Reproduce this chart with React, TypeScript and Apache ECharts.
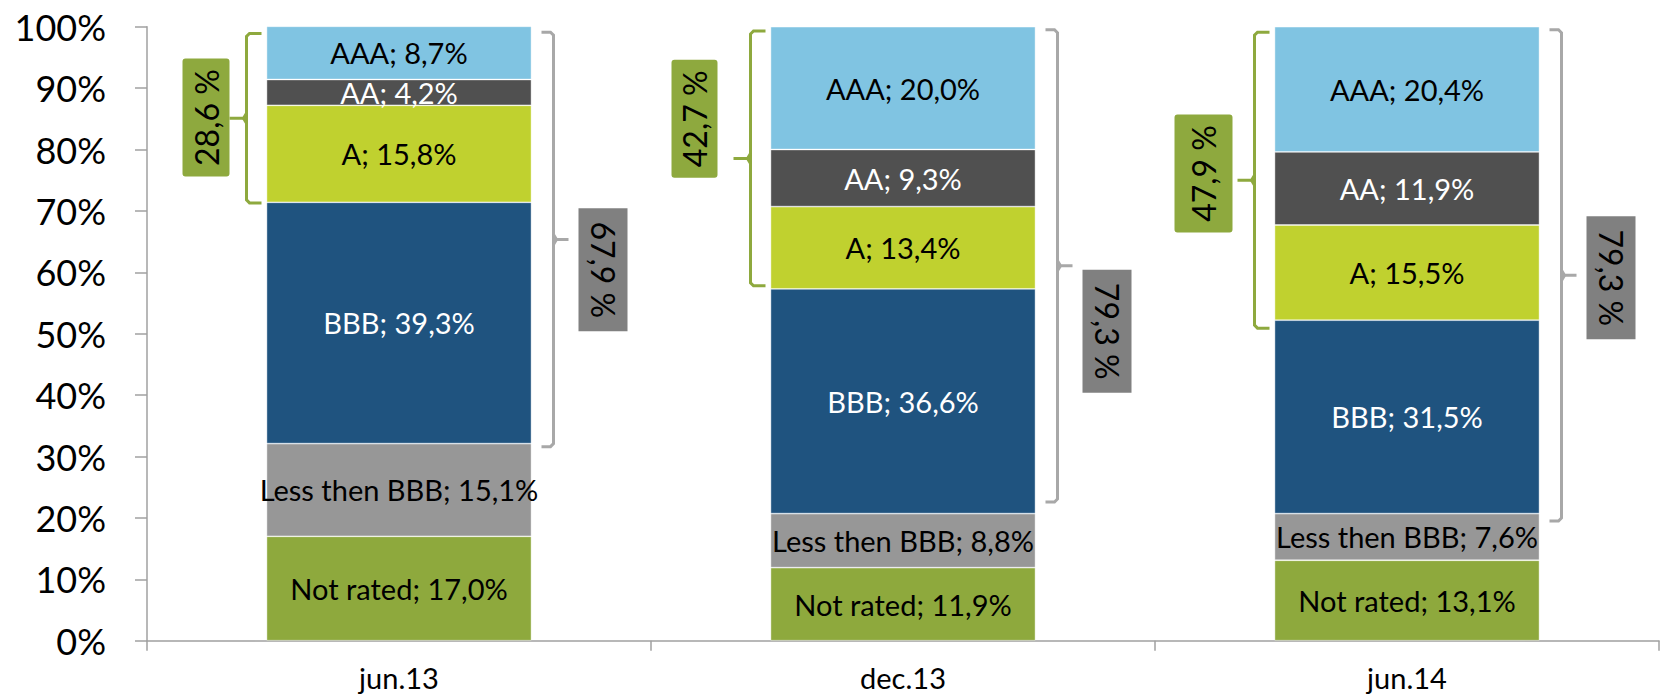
import React, { useEffect, useRef } from "react";
import * as echarts from "echarts";

// ---- data ----
const categories = ["jun.13", "dec.13", "jun.14"];
const notRated = [17.0, 11.9, 13.1];
const lessThenBBB = [15.1, 8.8, 7.6];
const bbb = [39.3, 36.6, 31.5];
const singleA = [15.8, 13.4, 15.5];
const doubleA = [4.2, 9.3, 11.9];
const tripleA = [8.7, 20.0, 20.4];

// bracket annotations: A..AAA (green) and BBB..AAA (grey)
const greenTotals = ["28,6 %", "42,7 %", "47,9 %"];
const greyTotals = ["67,9 %", "79,3 %", "79,3 %"];
const greenLow = [71.3, 57.8, 50.9];
const greenHigh = [98.9, 99.3, 99.1];
const greenBoxCenter = [85.2, 85.0, 76.1];
const greyLow = [31.6, 22.6, 19.5];
const greyHigh = [99.1, 99.5, 99.5];
const greyBoxCenter = [60.4, 50.4, 59.1];

// layout (pixels) for the annotation boxes
const greenBoxGap = [17, 33, 22];
const greenBoxWidth = [47, 46, 58];
const BOX_H = 118;
const GREY_BOX_W = 49;

const FONT = "Lato, 'Open Sans', sans-serif";
const BAR_W = 265;

const fmt = (v: number) => v.toFixed(1).replace(".", ",") + "%";

export default function App() {
  const ref = useRef<HTMLDivElement>(null);

  useEffect(() => {
    if (!ref.current) return;
    const chart = echarts.init(ref.current, undefined, { renderer: "svg" });

    const mkBar = (name: string, data: number[], color: string, textColor: string) => ({
      name,
      type: "bar",
      stack: "total",
      barWidth: BAR_W,
      data,
      itemStyle: { color, borderColor: "rgba(255,255,255,0.5)", borderWidth: 0.8 },
      label: {
        show: true,
        position: "inside",
        color: textColor,
        fontFamily: FONT,
        fontSize: 29,
        formatter: (p: any) => `${name}; ${fmt(p.value)}`,
      },
      emphasis: { disabled: true },
    });

    const greenData = categories.map((_, i) => [i, greenLow[i], greenHigh[i], greenBoxCenter[i]]);
    const greyData = categories.map((_, i) => [i, greyLow[i], greyHigh[i], greyBoxCenter[i]]);

    const GREEN = "#8EA93E";
    const GREY_LINE = "#A8A8A8";
    const GREY_BOX = "#808080";

    const option: any = {
      animation: false,
      backgroundColor: "#ffffff",
      grid: { left: 147, right: 2, top: 26.7, bottom: 56.3, containLabel: false },
      xAxis: {
        type: "category",
        data: categories,
        axisLine: { lineStyle: { color: "#A0A0A0", width: 1.5 } },
        axisTick: { show: true, length: 10, lineStyle: { color: "#A0A0A0", width: 1.5 } },
        axisLabel: { color: "#000", fontFamily: FONT, fontSize: 29, margin: 22 },
      },
      yAxis: {
        type: "value",
        min: 0,
        max: 100,
        interval: 10,
        axisLine: { show: true, lineStyle: { color: "#A0A0A0", width: 1.5 } },
        axisTick: { show: true, length: 12, lineStyle: { color: "#A0A0A0", width: 1.5 } },
        splitLine: { show: false },
        axisLabel: {
          color: "#000",
          fontFamily: FONT,
          fontSize: 36,
          margin: 41,
          formatter: (v: number) => `${v}%`,
        },
      },
      series: [
        mkBar("Not rated", notRated, "#8EA93D", "#000"),
        mkBar("Less then BBB", lessThenBBB, "#979797", "#000"),
        mkBar("BBB", bbb, "#1F537F", "#fff"),
        mkBar("A", singleA, "#C0D12F", "#000"),
        mkBar("AA", doubleA, "#505050", "#fff"),
        mkBar("AAA", tripleA, "#80C4E2", "#000"),
        {
          type: "custom",
          name: "greenBracket",
          silent: true,
          data: greenData,
          encode: { x: 0, y: 1 },
          renderItem: (params: any, api: any) => {
            const i = params.dataIndex;
            const [cx, yTop] = api.coord([api.value(0), api.value(2)]);
            const [, yBot] = api.coord([api.value(0), api.value(1)]);
            const [, yBox] = api.coord([api.value(0), api.value(3)]);
            const x = cx - BAR_W / 2 - 20;
            const yMid = (yTop + yBot) / 2;
            const boxR = x - greenBoxGap[i];
            const w = greenBoxWidth[i];
            return {
              type: "group",
              children: [
                {
                  type: "polyline",
                  shape: { points: [[x + 15, yTop], [x + 3, yTop], [x, yTop + 3], [x, yBot - 3], [x + 3, yBot], [x + 15, yBot]] },
                  style: { stroke: GREEN, lineWidth: 3, fill: null },
                },
                {
                  type: "polyline",
                  shape: { points: [[x, yMid - 5], [x - 3, yMid], [x - 17, yMid]] },
                  style: { stroke: GREEN, lineWidth: 3, fill: null },
                },
                {
                  type: "polyline",
                  shape: { points: [[x, yMid + 5], [x - 3, yMid]] },
                  style: { stroke: GREEN, lineWidth: 3, fill: null },
                },
                {
                  type: "rect",
                  shape: { x: boxR - w, y: yBox - BOX_H / 2, width: w, height: BOX_H, r: 3 },
                  style: { fill: GREEN },
                },
                {
                  type: "text",
                  x: boxR - w / 2,
                  y: yBox,
                  rotation: Math.PI / 2,
                  style: {
                    text: greenTotals[i],
                    fill: "#000",
                    fontFamily: FONT,
                    fontSize: 32,
                    align: "center",
                    verticalAlign: "middle",
                  },
                },
              ],
            };
          },
          z: 5,
        },
        {
          type: "custom",
          name: "greyBracket",
          silent: true,
          data: greyData,
          encode: { x: 0, y: 1 },
          renderItem: (params: any, api: any) => {
            const i = params.dataIndex;
            const [cx, yTop] = api.coord([api.value(0), api.value(2)]);
            const [, yBot] = api.coord([api.value(0), api.value(1)]);
            const [, yBox] = api.coord([api.value(0), api.value(3)]);
            const x = cx + BAR_W / 2 + 22;
            const yMid = (yTop + yBot) / 2;
            const boxL = x + 25;
            return {
              type: "group",
              children: [
                {
                  type: "polyline",
                  shape: { points: [[x - 12, yTop], [x - 3, yTop], [x, yTop + 3], [x, yBot - 3], [x - 3, yBot], [x - 12, yBot]] },
                  style: { stroke: GREY_LINE, lineWidth: 3, fill: null },
                },
                {
                  type: "polyline",
                  shape: { points: [[x, yMid - 5], [x + 3, yMid], [x + 15, yMid]] },
                  style: { stroke: GREY_LINE, lineWidth: 3, fill: null },
                },
                {
                  type: "polyline",
                  shape: { points: [[x, yMid + 5], [x + 3, yMid]] },
                  style: { stroke: GREY_LINE, lineWidth: 3, fill: null },
                },
                {
                  type: "rect",
                  shape: { x: boxL, y: yBox - (BOX_H + 5) / 2, width: GREY_BOX_W, height: BOX_H + 5 },
                  style: { fill: GREY_BOX },
                },
                {
                  type: "text",
                  x: boxL + GREY_BOX_W / 2,
                  y: yBox,
                  rotation: -Math.PI / 2,
                  style: {
                    text: greyTotals[i],
                    fill: "#000",
                    fontFamily: FONT,
                    fontSize: 32,
                    align: "center",
                    verticalAlign: "middle",
                  },
                },
              ],
            };
          },
          z: 5,
        },
      ],
    };

    chart.setOption(option);
    return () => chart.dispose();
  }, []);

  return (
    <div
      ref={ref}
      style={{ position: "fixed", left: 0, top: 0, width: 1661, height: 697, background: "#fff" }}
    />
  );
}
